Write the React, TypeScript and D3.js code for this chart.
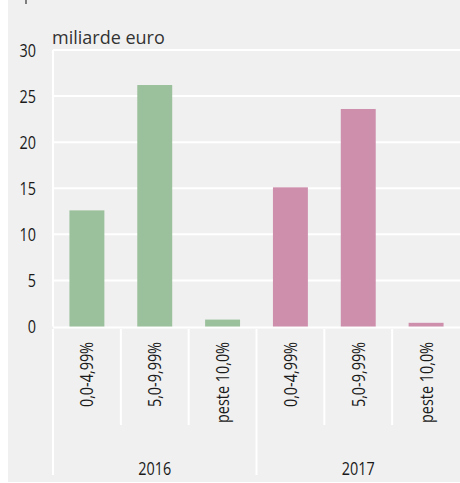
import React from "react";
import * as d3 from "d3";

// date
const years = ["2016", "2017"];
const bands = ["0,0-4,99%", "5,0-9,99%", "peste 10,0%"];
const values2016 = [12.6, 26.2, 0.75];
const values2017 = [15.1, 23.6, 0.4];
const yTicks = [0, 5, 10, 15, 20, 25, 30];
const unitLabel = "miliarde euro";

const colors: Record<string, string> = { "2016": "#9bc09c", "2017": "#ce8fad" };

const W = 460;
const H = 483;
const left = 53;
const right = 460;
const top = 50;
const zeroY = 326.5;

// font condensat simulat: Open Sans comprimat pe orizontala
const condFont = "'Open Sans', 'Noto Sans', sans-serif";
const condSize = 18;
const sx = 0.8;

export default function App() {
  const rows = years.flatMap((y) =>
    bands.map((b, i) => ({
      key: `${y}-${b}`,
      year: y,
      band: b,
      value: y === "2016" ? values2016[i] : values2017[i],
    }))
  );

  const xScale = d3
    .scaleBand<string>()
    .domain(rows.map((r) => r.key))
    .range([left, right])
    .paddingInner(0)
    .paddingOuter(0);

  const yScale = d3.scaleLinear().domain([0, 30]).range([zeroY, top]);

  const bw = xScale.bandwidth();
  const barW = bw * 0.515;

  return (
    <svg
      width={W}
      height={H}
      style={{ position: "absolute", left: 0, top: 0 }}
    >
      <rect x={8} y={0} width={W - 8} height={482} fill="#f0f0f0" />
      <line x1={26} x2={26} y1={0} y2={4} stroke="#333" strokeWidth={1.2} />

      {/* grila */}
      {yTicks.map((t) => (
        <g key={t}>
          {t > 0 && (
            <line
              x1={left}
              x2={right}
              y1={yScale(t)}
              y2={yScale(t)}
              stroke="#fff"
              strokeWidth={2}
            />
          )}
          <text
            transform={`translate(36,${yScale(t) + 6.5}) scale(${sx},1)`}
            textAnchor="end"
            fontFamily={condFont}
            fontSize={condSize}
            fontWeight={500}
            fill="#1a1a1a"
          >
            {t}
          </text>
        </g>
      ))}
      <line x1={left} x2={left} y1={top} y2={zeroY} stroke="#fff" strokeWidth={2} />
      <line x1={left} x2={right} y1={zeroY + 1} y2={zeroY + 1} stroke="#fff" strokeWidth={2} />

      <text
        x={52}
        y={44}
        fontFamily="'Open Sans', 'Noto Sans', sans-serif"
        fontSize={18}
        fill="#333"
      >
        {unitLabel}
      </text>

      {/* bare */}
      {rows.map((r) => (
        <rect
          key={r.key}
          x={(xScale(r.key) as number) + (bw - barW) / 2}
          y={yScale(r.value)}
          width={barW}
          height={zeroY - yScale(r.value)}
          fill={colors[r.year]}
        />
      ))}

      {/* separatoare categorii */}
      {rows.map((r, i) => {
        const x = xScale(r.key) as number;
        const isGroup = i % bands.length === 0;
        return (
          <line
            key={"sep" + r.key}
            x1={x}
            x2={x}
            y1={329}
            y2={isGroup ? 475 : 425}
            stroke="#fff"
            strokeWidth={2}
          />
        );
      })}

      {/* etichete categorii */}
      {rows.map((r) => {
        const cx = (xScale(r.key) as number) + bw / 2;
        return (
          <text
            key={"lbl" + r.key}
            transform={`translate(${cx + 6.5},342) rotate(-90) scale(${sx},1)`}
            textAnchor="end"
            fontFamily={condFont}
            fontSize={condSize}
            fontWeight={500}
            fill="#1a1a1a"
          >
            {r.band}
          </text>
        );
      })}

      {/* ani */}
      {years.map((y) => {
        const x0 = xScale(`${y}-${bands[0]}`) as number;
        const cx = x0 + (bw * bands.length) / 2;
        return (
          <text
            key={y}
            transform={`translate(${cx},475) scale(${sx},1)`}
            textAnchor="middle"
            fontFamily={condFont}
            fontSize={condSize}
            fontWeight={500}
            fill="#1a1a1a"
          >
            {y}
          </text>
        );
      })}
    </svg>
  );
}
